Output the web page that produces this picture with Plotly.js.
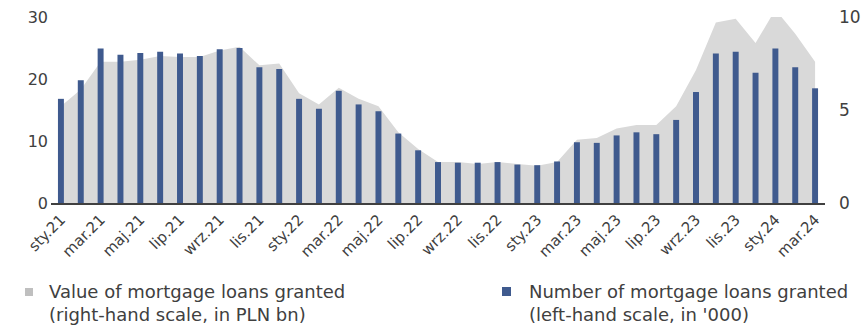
<!DOCTYPE html>
<html>
<head>
<meta charset="utf-8">
<script src="https://cdn.plot.ly/plotly-3.0.1.min.js"></script>
<style>html,body{margin:0;padding:0;background:#fff;}#chart{width:864px;height:326px;}</style>
</head>
<body>
<div id="chart"></div>
<script>
const months = ["sty.21","lut.21","mar.21","kwi.21","maj.21","cze.21","lip.21","sie.21","wrz.21","paź.21","lis.21","gru.21",
"sty.22","lut.22","mar.22","kwi.22","maj.22","cze.22","lip.22","sie.22","wrz.22","paź.22","lis.22","gru.22",
"sty.23","lut.23","mar.23","kwi.23","maj.23","cze.23","lip.23","sie.23","wrz.23","paź.23","lis.23","gru.23",
"sty.24","lut.24","mar.24"];
// Number of mortgage loans granted ('000), left-hand scale
const loanCount = [16.8,19.8,24.9,23.9,24.2,24.4,24.1,23.7,24.8,25.0,21.9,21.6,
16.8,15.2,18.1,15.9,14.8,11.2,8.5,6.6,6.5,6.5,6.6,6.2,
6.1,6.7,9.8,9.7,10.9,11.4,11.1,13.4,17.9,24.1,24.4,21.0,
24.9,21.9,18.5];
// Value of mortgage loans granted (PLN bn), right-hand scale
const loanValue = [5.2,6.1,7.6,7.6,7.7,7.9,7.85,7.85,8.2,8.4,7.4,7.5,
5.9,5.3,6.2,5.6,5.2,3.8,2.9,2.2,2.2,2.1,2.2,2.1,
2.0,2.2,3.4,3.5,4.0,4.2,4.2,5.2,7.15,9.7,9.9,8.6,
10.4,9.1,7.6];
const tickLabels = months.filter((m, i) => i % 2 === 0);
const leftTicks = [0,10,20,30];
const rightTicks = [0,5,10];
const legendValue = "Value of mortgage loans granted<br>(right-hand scale, in PLN bn)";
const legendCount = "Number of mortgage loans granted<br>(left-hand scale, in '000)";

const FONT = "DejaVu Sans";
const TXT = "#404040";
const BLUE = "#3F5A8E";
const GREY = "#D9D9D9";

const traces = [
  {type:"scatter", x:months, y:loanValue, yaxis:"y", mode:"none", fill:"tozeroy",
   fillcolor:GREY, line:{width:0}, hoverinfo:"skip", showlegend:false},
  {type:"bar", x:months, y:loanCount, yaxis:"y2", width:0.3,
   marker:{color:BLUE, line:{width:0}}, showlegend:false}
];

const px = v => (v - 51) / 774;
const py = v => (203 - v) / 186;

const layout = {
  width:864, height:326,
  margin:{l:51, r:39, t:17, b:123},
  paper_bgcolor:"#fff", plot_bgcolor:"rgba(0,0,0,0)",
  font:{family:FONT, color:TXT, size:16},
  showlegend:false,
  xaxis:{type:"category", range:[-0.5,38.5], tickmode:"array", tickvals:tickLabels, ticktext:tickLabels,
    tickangle:-45, tickfont:{size:15, color:TXT, family:FONT}, showline:true, linecolor:"#404040", linewidth:2,
    ticks:"", showgrid:false, zeroline:false, fixedrange:true},
  yaxis:{side:"right", range:[0,10], tickvals:rightTicks, showgrid:false, zeroline:false, showline:false,
    tickfont:{size:17, color:TXT, family:FONT}, ticklabelstandoff:13, fixedrange:true},
  yaxis2:{overlaying:"y", side:"left", range:[0,30], tickvals:leftTicks, showgrid:false, zeroline:false, showline:false,
    tickfont:{size:16, color:TXT, family:FONT}, ticklabelstandoff:2, fixedrange:true},
  shapes:[
    {type:"rect", xref:"paper", yref:"paper", x0:px(25), x1:px(33), y0:py(288), y1:py(296), fillcolor:"#BFBFBF", line:{width:0}},
    {type:"rect", xref:"paper", yref:"paper", x0:px(502), x1:px(511), y0:py(287), y1:py(296), fillcolor:BLUE, line:{width:0}}
  ],
  annotations:[
    {xref:"paper", yref:"paper", x:px(47), y:py(279), xanchor:"left", yanchor:"top", align:"left", showarrow:false,
     text:legendValue, font:{size:18, color:TXT, family:FONT}},
    {xref:"paper", yref:"paper", x:px(527), y:py(279), xanchor:"left", yanchor:"top", align:"left", showarrow:false,
     text:legendCount, font:{size:18, color:TXT, family:FONT}}
  ]
};

Plotly.newPlot("chart", traces, layout, {displayModeBar:false, staticPlot:true});
</script>
</body>
</html>
